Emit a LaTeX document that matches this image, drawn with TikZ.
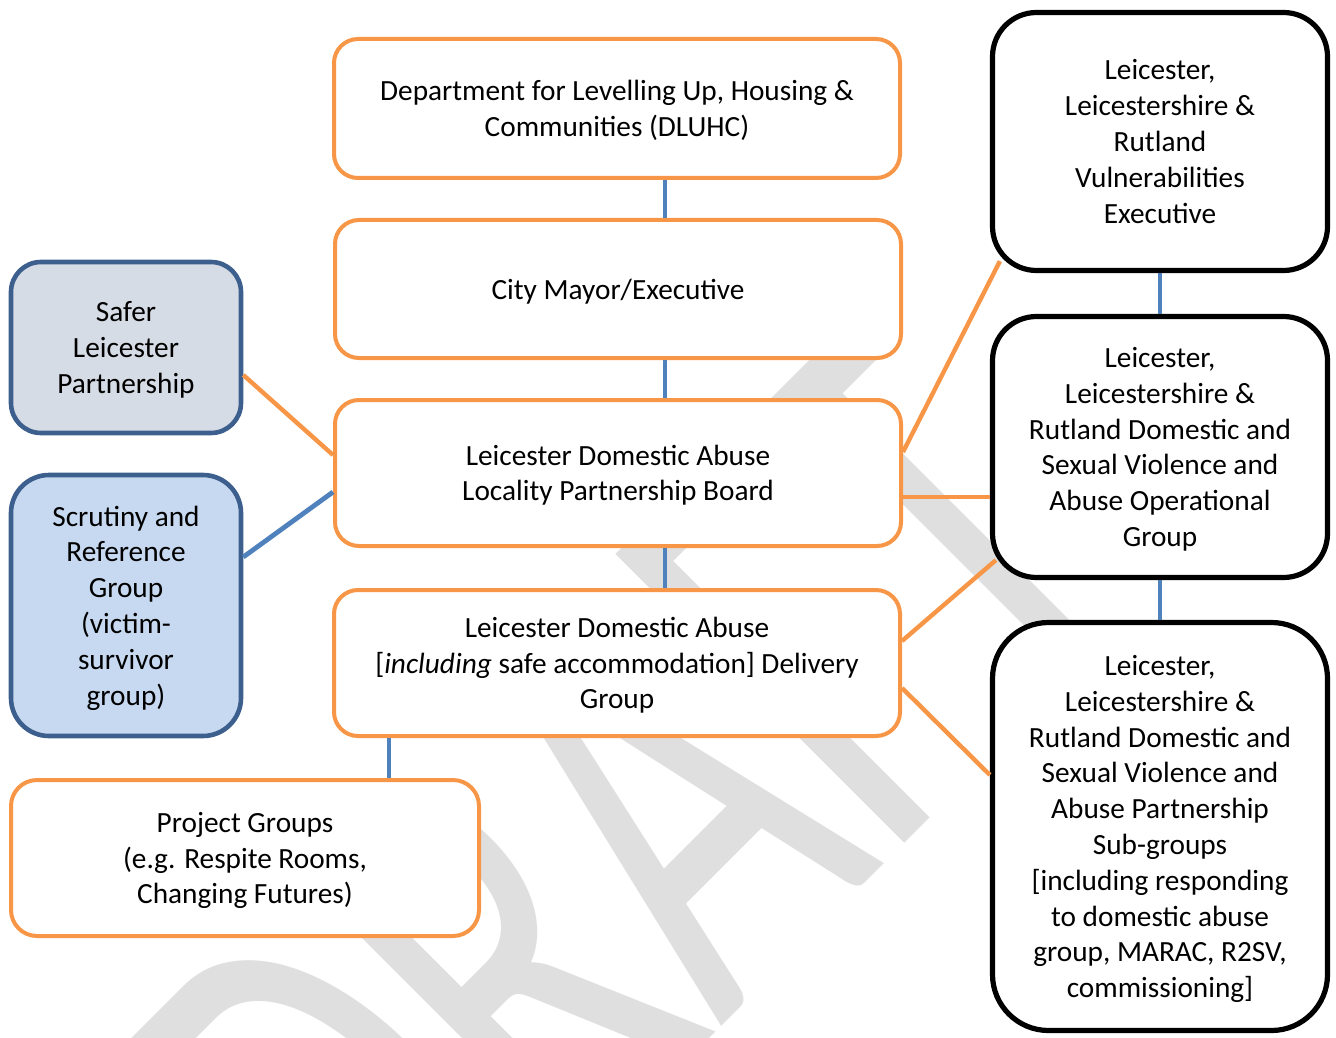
\documentclass[tikz,border=0pt]{standalone}
\usepackage{fontspec}
\setmainfont{Carlito}
\newfontfamily\wmfont[Kerning=Off]{Carlito}
\usetikzlibrary{calc}
\definecolor{boxorange}{HTML}{F79646}
\definecolor{linkblue}{HTML}{4F81BD}
\definecolor{navyedge}{HTML}{3C5F8D}
\definecolor{slatefill}{HTML}{D6DCE5}
\definecolor{paleblue}{HTML}{C6D9F0}
\definecolor{wmgray}{HTML}{DFDFDF}
% fixed line box (ascent + descent) so every text block centres like a word-processor paragraph
\newcommand\bs{\rule[-3.94pt]{0pt}{17.89pt}}

\begin{document}
\begin{tikzpicture}[x=0.5pt,y=-0.5pt,
  every node/.style={align=center, inner sep=0pt, font=\fontsize{14.65}{17.9}\selectfont},
  orangebox/.style={draw=boxorange, line width=2pt, fill=white, rounded corners=12pt, minimum width=283pt},
  bluebox/.style={draw=navyedge, line width=2.3pt, minimum width=115pt},
  blackbox/.style={draw=black, line width=2.6pt, fill=white, minimum width=167.5pt},
  olink/.style={draw=boxorange, line width=2.2pt},
  blink/.style={draw=linkblue, line width=2.4pt},
]
\useasboundingbox (0,0) rectangle (1336,1037);

% watermark behind everything
\begin{scope}
  \clip (0,0) rectangle (1336,1037);
  \node[anchor=base, rotate=45, text=wmgray, font=\wmfont\fontsize{201.5}{202}\selectfont] (wm) at (773,975) {\scalebox{1}[1.58]{DRAFT}};
\end{scope}

% central column
\node[orangebox, minimum height=69.5pt] (dluhc) at (617,108.5)
  {\bs Department for Levelling Up, Housing \&\\Communities (DLUHC)\bs};
\node[orangebox, minimum height=69pt] (mayor) at (618,289)
  {\bs City Mayor/Executive\bs};
\node[orangebox, minimum height=73pt] (board) at (618,473)
  {\bs Leicester Domestic Abuse\\Locality Partnership Board\bs};
\node[orangebox, minimum height=73pt] (delivery) at (617,663)
  {\bs Leicester Domestic Abuse\\{}[\textit{including} safe accommodation] Delivery\\Group\bs};
\node[orangebox, minimum width=234pt, minimum height=78pt, rounded corners=13pt] (project) at (245,858)
  {\bs Project Groups\\(e.g. Respite Rooms,\\Changing Futures)\bs};

% left column
\node[bluebox, fill=slatefill, minimum height=85.5pt, rounded corners=15pt] (safer) at (126,347.5)
  {\bs Safer\\Leicester\\Partnership\bs};
\node[bluebox, fill=paleblue, minimum height=130.5pt, rounded corners=19pt] (scrutiny) at (126,605.5)
  {\bs Scrutiny and\\Reference\\Group\\(victim-\\survivor\\group)\bs};

% right column
\node[blackbox, minimum height=129pt, rounded corners=22pt] (vuln) at (1160,141.5)
  {\bs Leicester,\\Leicestershire \&\\Rutland\\Vulnerabilities\\Executive\bs};
\node[blackbox, minimum height=130.5pt, rounded corners=22pt] (oper) at (1160,447)
  {\bs Leicester,\\Leicestershire \&\\Rutland Domestic and\\Sexual Violence and\\Abuse Operational\\Group\bs};
\node[blackbox, minimum height=204pt, rounded corners=28pt] (sub) at (1160,826.5)
  {\bs Leicester,\\Leicestershire \&\\Rutland Domestic and\\Sexual Violence and\\Abuse Partnership\\Sub-groups\\{}[including responding\\to domestic abuse\\group, MARAC, R2SV,\\commissioning]\bs};

% connector guides
\coordinate (spine) at (665,0);
\coordinate (projx) at (389,0);

% vertical links
\draw[blink] (dluhc.south -| spine) -- (mayor.north -| spine);
\draw[blink] (mayor.south -| spine) -- (board.north -| spine);
\draw[blink] (board.south -| spine) -- (delivery.north -| spine);
\draw[blink] (delivery.south -| projx) -- (project.north -| projx);
\draw[blink] (vuln.south) -- (oper.north);
\draw[blink] (oper.south) -- (sub.north);

% side links
\draw[olink] ($(safer.east)+(0,27.5)$) -- ($(board.west)+(0,-18)$);
\draw[blink] ($(scrutiny.east)+(0,-48.5)$) -- ($(board.west)+(0,19)$);
\draw[olink] ($(board.east)+(0,-21)$) -- ($(vuln.south west)+(10,-12)$);
\draw[olink] ($(board.east)+(0,24)$) -- ($(oper.west)+(0,50)$);
\draw[olink] ($(delivery.east)+(0,-22)$) -- ($(oper.south west)+(6,-20)$);
\draw[olink] ($(delivery.east)+(0,25)$) -- ($(sub.west)+(0,-51.5)$);
\end{tikzpicture}
\end{document}
